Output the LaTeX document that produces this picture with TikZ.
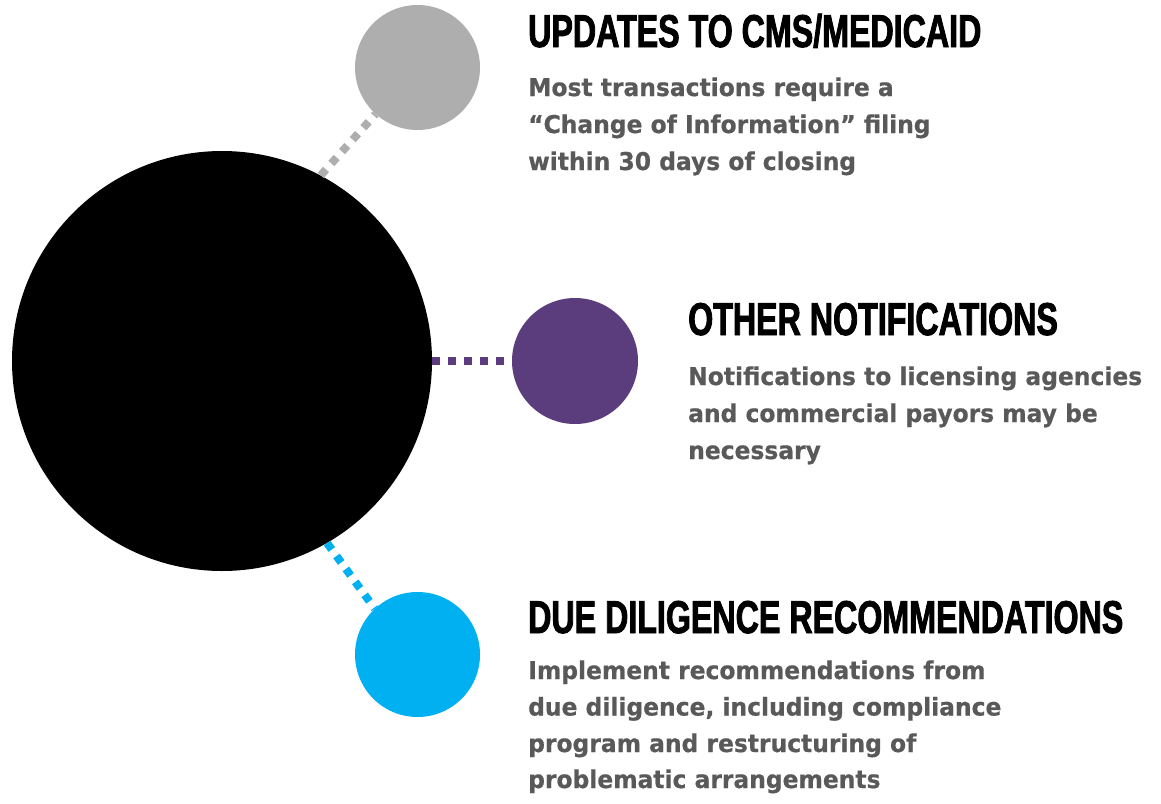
\documentclass[tikz,border=0pt]{standalone}
\usepackage{fontspec}
\newfontfamily\titlefont[FakeStretch=0.70,FakeBold=1.8]{Liberation Sans Bold}
\newfontfamily\bodyfont[FakeStretch=0.955,FakeBold=0.6]{DejaVu Sans Bold}
\definecolor{cgray}{HTML}{AEAEAF}
\definecolor{cpurple}{HTML}{5B3D7E}
\definecolor{cblue}{HTML}{00B0F0}
\definecolor{ctext}{HTML}{595959}
\tikzset{
  bubble/.style={circle, inner sep=0pt, minimum size=#1, draw=none},
  link/.style={line width=8pt, dash pattern=on 8pt off 8pt},
  title/.style={anchor=base west, inner sep=0pt, font=\titlefont\fontsize{46}{46}\selectfont, text=black},
  body/.style={anchor=base west, inner sep=0pt, font=\bodyfont\fontsize{24.5}{24.5}\selectfont, text=ctext}
}
\begin{document}
\begin{tikzpicture}[x=1pt,y=-1pt]
\useasboundingbox (0,0) rectangle (1161,803);
\node[bubble=420pt, fill=black] (big) at (222,361) {};
\node[bubble=125pt, fill=cgray] (gray) at (417.5,67.5) {};
\node[bubble=126pt, fill=cpurple] (purple) at (575,361) {};
\node[bubble=125pt, fill=cblue] (blue) at (417.5,654.5) {};
\draw[link, cgray] (big.62) -- (gray.228);
\draw[link, cpurple] (big.east) -- (purple.west);
\draw[link, cblue] (big.-60) -- (blue.133);
% section 1
\node[title] (t1) at (528,47) {UPDATES TO CMS/MEDICAID};
\node[body] (b1a) at (528,96) {Most transactions require a};
\node[body] (b1b) at (528,133) {“Change of Information” filing};
\node[body] (b1c) at (528,170) {within 30 days of closing};
% section 2
\node[title] (t2) at (688,335) {OTHER NOTIFICATIONS};
\node[body] (b2a) at (688,385) {Notifications to licensing agencies};
\node[body] (b2b) at (688,422) {and commercial payors may be};
\node[body] (b2c) at (688,459) {necessary};
% section 3
\node[title] (t3) at (528,633) {DUE DILIGENCE RECOMMENDATIONS};
\node[body] (b3a) at (528,679) {Implement recommendations from};
\node[body] (b3b) at (528,715.5) {due diligence, including compliance};
\node[body] (b3c) at (528,752) {program and restructuring of};
\node[body] (b3d) at (528,788) {problematic arrangements};
\end{tikzpicture}
\end{document}
